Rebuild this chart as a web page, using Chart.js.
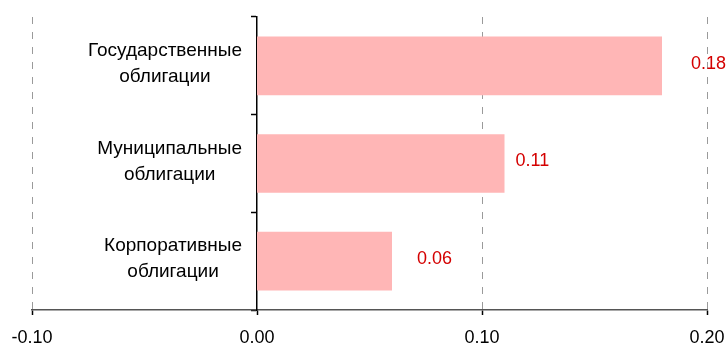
<!DOCTYPE html>
<html>
<head>
<meta charset="utf-8">
<script src="https://cdn.jsdelivr.net/npm/chart.js@4/dist/chart.umd.min.js"></script>
<style>
  html, body { margin: 0; padding: 0; background: #ffffff; overflow: hidden; }
  #wrap { width: 728px; height: 345px; position: relative; }
</style>
</head>
<body>
<div id="wrap"><canvas id="chart"></canvas></div>
<script>
// Bond categories (each entry split into its display lines)
const categories = [
  ['Государственные', 'облигации'],
  ['Муниципальные', 'облигации'],
  ['Корпоративные', 'облигации']
];
// Values per category
const values = [0.18, 0.11, 0.06];
// Value axis range and tick step
const axisMin = -0.10;
const axisMax = 0.20;
const axisStep = 0.10;

// Horizontal nudges (px) of the value labels from the bar ends
const valueLabelGap = [29, 11, 25];

const FONT = '"Liberation Sans", Arial, sans-serif';
const FONT_SIZE = 18;
const CAT_FONT_SIZE = 19;

// Value-axis tick labels, written under each tick of the x scale
const xTickLabels = {
  id: 'xTickLabels',
  afterDraw(chart) {
    const { ctx } = chart;
    const x = chart.scales.x;
    ctx.save();
    ctx.font = FONT_SIZE + 'px ' + FONT;
    ctx.fillStyle = '#000000';
    ctx.textAlign = 'center';
    ctx.textBaseline = 'middle';
    x.ticks.forEach(t => {
      ctx.fillText(Number(t.value).toFixed(2), x.getPixelForValue(t.value), chart.chartArea.bottom + 28);
    });
    ctx.restore();
  }
};

// Two-line category names, centred as a block whose right edge sits next to the zero axis
const categoryLabels = {
  id: 'categoryLabels',
  afterDraw(chart) {
    const { ctx } = chart;
    const y = chart.scales.y;
    const x0 = chart.scales.x.getPixelForValue(0);
    const lineH = 26;
    ctx.save();
    ctx.font = CAT_FONT_SIZE + 'px ' + FONT;
    ctx.fillStyle = '#000000';
    ctx.textAlign = 'center';
    ctx.textBaseline = 'middle';
    categories.forEach((lines, i) => {
      const widest = Math.max(...lines.map(l => ctx.measureText(l).width));
      const cx = x0 - 15 - widest / 2;
      const cy = y.getPixelForValue(i) - 2;
      const top = cy - (lines.length - 1) * lineH / 2;
      lines.forEach((l, k) => ctx.fillText(l, cx, top + k * lineH));
    });
    ctx.restore();
  }
};

// Red value labels to the right of each bar
const valueLabels = {
  id: 'valueLabels',
  afterDatasetsDraw(chart) {
    const { ctx } = chart;
    const meta = chart.getDatasetMeta(0);
    ctx.save();
    ctx.font = FONT_SIZE + 'px ' + FONT;
    ctx.fillStyle = '#d40000';
    ctx.textAlign = 'left';
    ctx.textBaseline = 'middle';
    meta.data.forEach((bar, i) => {
      ctx.fillText(values[i].toFixed(2), bar.x + valueLabelGap[i], bar.y - 2);
    });
    ctx.restore();
  }
};

new Chart(document.getElementById('chart'), {
  type: 'bar',
  data: {
    labels: categories.map(c => c.join(' ')),
    datasets: [{
      data: values,
      backgroundColor: '#ffb6b6',
      borderWidth: 0,
      categoryPercentage: 1.0,
      barPercentage: 0.6
    }]
  },
  options: {
    indexAxis: 'y',
    responsive: true,
    maintainAspectRatio: false,
    animation: false,
    devicePixelRatio: 1,
    layout: { padding: { left: 32, right: 21, top: 17, bottom: 30 } },
    plugins: {
      legend: { display: false },
      tooltip: { enabled: false }
    },
    scales: {
      x: {
        type: 'linear',
        min: axisMin,
        max: axisMax,
        ticks: {
          stepSize: axisStep,
          display: false
        },
        grid: {
          color: ctx => (ctx.tick && Math.abs(ctx.tick.value) < 1e-9) ? 'rgba(0,0,0,0)' : '#9a9a9a',
          lineWidth: 1,
          drawTicks: true,
          tickLength: 5,
          tickColor: '#000000',
          tickWidth: 1.5
        },
        border: { display: true, color: '#555555', width: 1.5, dash: [7, 8] }
      },
      y: {
        type: 'category',
        position: { x: 0 },
        ticks: { display: false },
        grid: {
          drawOnChartArea: false,
          drawTicks: true,
          tickLength: 5,
          tickColor: '#000000',
          tickWidth: 1.5,
          offset: true
        },
        border: { display: true, color: '#000000', width: 1.5 }
      }
    }
  },
  plugins: [categoryLabels, valueLabels, xTickLabels]
});
</script>
</body>
</html>
